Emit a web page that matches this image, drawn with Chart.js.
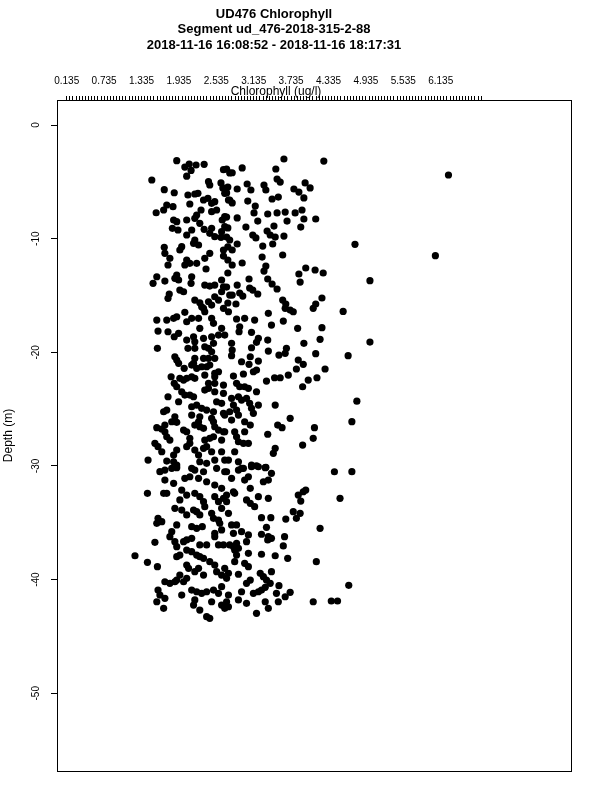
<!DOCTYPE html>
<html><head><meta charset="utf-8">
<script src="https://cdn.jsdelivr.net/npm/chart.js@4/dist/chart.umd.min.js"></script>
<style>html,body{margin:0;padding:0;background:#fff}canvas{display:block}</style>
</head><body>
<canvas id="c" width="600" height="800"></canvas>
<script>
const titleLines = ['UD476 Chlorophyll', 'Segment ud_476-2018-315-2-88', '2018-11-16 16:08:52 - 2018-11-16 18:17:31'];
const xAxisTitle = 'Chlorophyll (ug/l)';
const yAxisTitle = 'Depth (m)';
const xTickLabels = ['0.135','0.735','1.335','1.935','2.535','3.135','3.735','4.335','4.935','5.535','6.135'];
const xMinorFirst = 0.135;
const xMinorCount = 134;
const xMinorStep = 0.05;
const yTickValues = [0, -10, -20, -30, -40, -50];
const yTickLabels = ['0', '-10', '-20', '-30', '-40', '-50'];

const chlorophyll = [
6.26,6.05,4.76,5.00,5.00,4.65,4.79,4.71,4.57,4.66,4.71,
1.90,2.10,2.21,2.34,2.03,2.06,2.13,1.50,2.65,2.70,2.41,2.43,2.61,2.64,1.70,1.86,2.08,2.19,2.24,2.33,2.40,2.46,2.51,2.67,2.73,2.11,1.74,1.69,1.57,1.84,2.29,2.22,2.06,1.85,1.90,2.46,2.54,2.63,2.67,2.19,2.27,2.34,1.83,1.92,2.14,2.06,2.46,2.43,2.67,2.62,2.61,2.51,2.19,2.17,2.25,1.70,1.71,1.98,1.95,2.43,2.35,2.65,2.65,1.79,1.76,2.06,2.03,2.11,2.22,2.37,1.90,1.87,1.93,1.58,1.71,1.52,2.14,2.13,2.35,2.43,2.51,2.62,2.65,1.95,2.01,1.78,1.76,2.19,2.27,2.30,2.51,2.57,2.62,2.41,2.46,
3.62,4.26,3.49,3.51,3.56,2.95,2.79,3.30,3.33,3.03,3.09,2.87,3.78,3.86,3.96,4.04,3.94,3.43,3.53,3.04,3.16,3.14,3.36,3.51,3.64,3.80,3.91,3.94,4.13,3.67,3.20,2.87,3.01,3.35,3.40,3.46,3.89,3.12,3.17,3.48,3.44,3.62,3.28,2.87,3.27,3.60,2.95,3.33,3.30,3.97,4.12,4.25,3.86,3.88,3.36,3.43,3.51,3.06,2.87,2.91,2.96,3.07,3.12,3.20,2.75,2.85,3.60,3.65,4.23,4.13,
2.75,2.72,2.70,2.75,2.79,2.70,2.72,2.70,2.75,2.72,2.79,2.72,2.79,2.72,2.70,2.79,2.72,
1.58,1.74,1.85,1.90,2.03,2.06,2.14,2.25,2.33,2.35,2.46,2.49,2.65,1.60,1.76,1.86,1.93,2.06,2.17,2.19,2.27,2.33,2.35,2.46,2.49,2.57,2.62,1.59,2.08,2.19,2.41,2.46,1.87,1.90,1.93,2.19,2.17,2.33,2.41,2.51,2.02,2.14,2.22,2.30,2.38,2.43,2.51,2.57,1.81,1.95,2.01,2.06,2.14,2.19,2.35,2.41,2.51,2.51,2.65,1.86,1.90,1.98,2.03,2.11,2.17,1.76,1.93,2.35,2.41,2.51,2.65,2.54,2.62,1.69,1.74,2.14,2.22,2.30,2.38,2.49,2.14,1.87,1.82,2.27,2.25,2.46,2.49,2.65,2.67,1.71,1.66,1.58,1.90,2.01,2.06,2.19,2.27,2.33,2.51,2.57,2.65,1.71,1.74,1.79,2.11,2.11,2.35,2.43,2.49,2.62,1.55,1.60,1.66,1.90,1.85,2.06,2.19,2.25,2.33,2.38,2.46,2.62,1.44,1.74,1.85,1.90,2.27,2.38,2.51,2.67,
2.73,3.64,3.72,3.77,4.09,3.37,2.86,2.99,3.15,3.42,3.61,2.91,2.90,3.84,4.23,3.10,2.67,3.21,3.18,3.10,3.36,3.94,4.20,2.78,2.79,2.78,3.37,3.66,3.64,3.54,4.13,3.08,3.06,2.94,3.21,3.85,3.93,3.82,4.28,3.13,3.18,2.97,2.81,3.34,3.47,3.56,3.69,4.01,4.15,3.92,2.86,2.91,2.99,3.05,3.18,2.89,2.94,3.02,3.07,3.10,3.13,2.78,2.81,2.75,2.86,2.89,3.21,3.48,3.72,2.78,2.99,3.08,3.52,3.59,4.11,2.67,2.83,2.86,2.89,2.97,3.05,2.99,3.36,4.09,3.92,3.48,3.45,2.83,2.73,2.89,3.10,3.21,3.33,2.94,
1.63,1.71,1.82,1.90,2.14,2.19,2.33,2.54,2.70,1.71,1.85,2.03,2.11,2.25,2.38,2.51,2.62,1.43,1.69,1.74,1.98,2.06,2.19,2.27,2.33,2.35,2.51,2.57,2.65,2.70,1.95,1.87,1.98,2.06,2.17,2.22,2.27,2.46,2.49,2.57,2.62,1.60,1.58,1.66,1.90,2.14,2.22,2.31,2.59,2.62,2.51,1.82,1.79,1.87,1.90,2.01,2.06,2.14,2.27,2.38,2.51,2.57,2.65,1.55,1.23,1.43,1.59,1.90,1.95,2.06,2.14,2.22,2.27,2.33,2.43,2.51,2.06,2.09,2.19,2.25,2.33,2.54,2.62,1.95,1.90,1.71,1.79,1.87,2.01,2.06,1.60,1.63,1.58,1.71,1.69,1.98,2.14,2.22,2.30,2.38,2.49,2.57,2.62,2.46,2.62,2.67,2.27,2.38,2.43,2.19,2.17,
2.89,2.97,3.10,3.18,3.32,3.42,2.67,2.78,2.99,3.05,3.37,3.29,4.43,3.08,2.81,2.83,3.85,3.93,3.97,3.89,4.52,3.02,3.08,3.15,3.21,3.37,2.70,2.73,3.77,3.88,3.82,3.26,3.41,3.65,4.20,2.78,2.86,3.34,2.94,3.05,2.81,3.26,3.37,3.42,3.36,3.63,3.02,2.75,2.81,2.86,2.89,2.83,3.61,2.86,2.83,3.05,3.26,3.48,3.68,4.14,2.99,3.05,2.67,2.73,2.70,2.89,3.24,3.29,3.34,3.40,3.42,3.08,3.02,3.54,2.94,3.13,3.21,3.26,3.32,3.50,3.72,3.64,2.73,2.70,2.73,2.89,3.02,3.32,3.37,3.53,3.18,4.09,4.38,4.48
];

const depth = [
-4.40,-11.50,-10.50,-13.70,-19.10,-20.30,-24.30,-26.10,-16.40,-40.50,-30.50,
-3.14,-3.43,-3.52,-3.46,-3.70,-4.50,-4.00,-4.84,-3.93,-3.87,-4.99,-5.28,-5.10,-5.54,-5.69,-5.96,-6.16,-6.07,-6.01,-6.60,-6.45,-6.89,-6.75,-6.01,-6.60,-6.95,-7.04,-7.48,-7.72,-7.19,-7.48,-7.92,-8.36,-8.36,-8.51,-7.63,-7.48,-8.36,-8.07,-8.21,-8.65,-9.18,-9.09,-9.24,-9.24,-9.68,-9.09,-9.53,-8.95,-9.39,-9.88,-9.83,-10.12,-10.41,-10.56,-10.76,-11.29,-10.71,-11.00,-11.29,-11.73,-11.00,-11.53,-11.73,-12.32,-11.88,-12.32,-12.17,-12.17,-12.67,-13.20,-13.49,-13.64,-13.35,-13.73,-13.93,-13.35,-13.93,-14.08,-14.17,-14.08,-13.64,-14.23,-14.52,-14.67,-14.87,-15.25,-15.40,-15.64,-15.99,-15.11,-15.40,-14.67,-15.55,-15.84,
-2.99,-3.17,-3.87,-4.75,-5.02,-3.78,-4.20,-5.28,-5.72,-5.19,-5.72,-5.63,-5.63,-5.90,-5.10,-5.54,-6.42,-6.51,-6.34,-6.69,-7.13,-7.74,-7.83,-7.74,-7.66,-7.74,-7.48,-8.27,-8.27,-8.45,-8.45,-8.18,-8.98,-9.33,-9.68,-8.89,-8.98,-9.68,-9.94,-9.86,-10.47,-9.77,-10.65,-10.47,-11.62,-11.44,-12.14,-12.41,-12.85,-12.58,-12.76,-13.02,-13.11,-13.82,-13.55,-13.99,-14.43,-13.55,-14.08,-14.78,-15.05,-14.34,-14.52,-14.87,-14.96,-15.75,-15.40,-15.75,-15.22,-15.75,
-4.22,-5.46,-5.98,-6.60,-6.86,-8.10,-9.06,-9.86,-10.12,-10.73,-11.00,-11.88,-12.32,-13.02,-14.26,-14.96,-15.66,
-17.16,-17.16,-17.01,-16.87,-16.48,-17.31,-17.01,-17.01,-16.13,-16.43,-17.01,-17.45,-16.13,-18.13,-18.19,-18.63,-18.33,-18.92,-18.63,-19.07,-17.89,-18.77,-19.51,-18.63,-19.21,-18.48,-17.89,-19.65,-19.65,-19.65,-19.65,-19.95,-20.39,-20.68,-20.97,-20.53,-20.97,-20.53,-20.53,-20.53,-21.41,-21.12,-21.41,-21.27,-21.27,-21.12,-21.85,-21.71,-22.15,-22.29,-22.44,-22.29,-22.15,-22.29,-22.00,-22.73,-22.15,-22.73,-22.88,-22.73,-23.03,-23.47,-23.76,-23.76,-23.91,-23.91,-24.35,-23.32,-23.17,-23.47,-23.61,-24.35,-24.49,-25.23,-25.08,-24.79,-24.64,-24.93,-25.08,-25.23,-25.52,-25.67,-26.11,-25.67,-26.11,-25.81,-26.11,-25.37,-25.52,-26.40,-26.75,-26.63,-26.16,-26.84,-26.99,-26.40,-26.55,-26.69,-26.55,-26.84,-26.99,-26.99,-27.43,-27.72,-27.57,-28.01,-27.72,-27.57,-27.43,-27.72,-28.01,-28.30,-28.75,-28.60,-29.04,-28.30,-28.60,-29.04,-28.45,-28.30,-28.75,-28.75,-29.48,-29.57,-29.63,-29.92,-29.63,-29.77,-29.48,-29.48,
-16.43,-16.13,-16.28,-16.43,-16.13,-16.57,-17.07,-17.01,-17.16,-17.60,-17.25,-17.75,-18.19,-17.89,-17.83,-18.24,-18.48,-18.77,-19.12,-19.60,-18.92,-19.21,-18.86,-19.21,-19.80,-20.30,-19.89,-19.65,-20.09,-20.24,-20.12,-20.39,-21.06,-20.83,-20.77,-20.68,-21.06,-21.47,-21.47,-21.71,-21.56,-21.91,-22.09,-22.53,-22.24,-22.24,-22.00,-22.44,-22.24,-23.03,-22.73,-23.03,-23.03,-23.17,-23.47,-23.91,-24.20,-24.05,-24.49,-24.93,-25.37,-24.05,-24.64,-25.23,-25.08,-25.52,-24.64,-24.64,-25.81,-25.96,-26.11,-26.40,-26.40,-26.63,-26.63,-26.99,-26.99,-27.43,-27.87,-28.01,-28.01,-26.99,-27.21,-27.57,-28.16,-28.45,-28.89,-28.75,-29.48,-29.63,-29.92,-30.07,-30.12,-30.21,
-30.50,-30.36,-30.21,-30.15,-30.21,-30.36,-30.51,-30.21,-30.51,-31.24,-31.53,-31.09,-30.95,-31.09,-31.39,-31.68,-31.97,-32.41,-32.41,-32.41,-32.12,-32.56,-32.41,-32.70,-33.14,-33.58,-32.70,-33.14,-32.85,-32.56,-32.99,-33.73,-33.88,-34.31,-33.88,-34.02,-34.31,-34.17,-34.61,-34.76,-33.73,-34.61,-35.05,-34.90,-35.19,-35.34,-35.49,-35.34,-35.05,-35.63,-35.93,-35.78,-36.22,-36.66,-37.10,-36.66,-36.51,-36.37,-36.95,-36.95,-36.22,-36.95,-36.95,-36.72,-37.90,-38.48,-38.86,-37.98,-37.84,-37.40,-37.54,-37.84,-37.98,-38.13,-38.42,-38.72,-38.72,-39.01,-39.30,-39.01,-39.60,-39.30,-39.60,-39.60,-40.04,-40.19,-40.33,-40.19,-40.19,-39.89,-40.92,-41.36,-41.95,-41.65,-42.53,-41.36,-40.92,-41.07,-41.21,-41.07,-40.92,-41.21,-40.62,-41.95,-42.24,-42.53,-42.68,-43.26,-43.41,-41.79,-42.24,
-30.36,-30.21,-30.07,-29.98,-30.15,-30.65,-30.51,-31.09,-31.24,-30.95,-31.24,-31.39,-30.51,-31.97,-32.27,-32.41,-32.56,-32.27,-32.12,-33.09,-32.85,-32.99,-33.29,-33.58,-32.70,-32.85,-33.14,-34.17,-34.02,-34.17,-34.61,-34.55,-34.55,-34.67,-35.49,-35.19,-35.19,-35.40,-35.78,-36.07,-35.93,-36.01,-36.22,-36.37,-36.51,-36.22,-36.66,-36.95,-37.10,-36.80,-37.25,-37.40,-37.04,-37.84,-38.42,-37.69,-37.77,-37.90,-38.13,-38.42,-38.57,-38.86,-39.01,-39.45,-39.89,-39.53,-39.45,-39.74,-40.04,-40.33,-39.30,-40.04,-40.33,-40.53,-41.07,-41.21,-41.07,-40.92,-40.68,-41.21,-41.12,-41.51,-41.36,-41.95,-42.39,-41.79,-42.09,-41.95,-42.53,-41.95,-42.97,-41.95,-41.88,-41.88
];

const FONT = '"Liberation Sans", Arial, Helvetica, sans-serif';
Chart.defaults.color = '#000';
Chart.defaults.font.family = FONT;

const xTickValues = [];
for (let i = 0; i < xMinorCount; i++) xTickValues.push(+(xMinorFirst + i * xMinorStep).toFixed(3));

const points = chlorophyll.map((c, i) => ({x: c, y: depth[i]}));

const decor = {
  id: 'decor',
  afterDraw(chart) {
    const ctx = chart.ctx;
    const a = chart.chartArea;
    ctx.save();
    ctx.strokeStyle = '#000';
    ctx.lineWidth = 1;
    ctx.strokeRect(Math.round(a.left) - 0.5, Math.round(a.top) + 0.5, Math.round(a.right - a.left) + 1, Math.round(a.bottom - a.top));
    ctx.fillStyle = '#000';
    ctx.textAlign = 'center';
    ctx.textBaseline = 'alphabetic';
    ctx.font = 'bold 13px ' + FONT;
    const base = [17.5, 33, 48.5];
    titleLines.forEach((t, i) => ctx.fillText(t, 274, base[i]));
    ctx.font = '12px ' + FONT;
    ctx.fillText(xAxisTitle, 276, 95);
    ctx.restore();
  }
};

new Chart(document.getElementById('c'), {
  type: 'scatter',
  data: {
    datasets: [{
      data: points,
      pointRadius: 3.6,
      pointHoverRadius: 3.6,
      backgroundColor: '#000',
      borderColor: '#000',
      borderWidth: 0
    }]
  },
  options: {
    responsive: false,
    animation: false,
    devicePixelRatio: 1,
    layout: {padding: {top: 0, left: 0, right: 29, bottom: 29}},
    plugins: {legend: {display: false}, tooltip: {enabled: false}, title: {display: false}},
    scales: {
      x: {
        type: 'linear', position: 'top', min: -0.005, max: 8.226,
        afterBuildTicks: s => { s.ticks = xTickValues.map(v => ({value: v})); },
        afterFit: s => { s.height = 100; },
        ticks: {
          autoSkip: false, minRotation: 0, maxRotation: 0, padding: 9,
          font: {size: 10, family: FONT}, color: '#000',
          callback: (v, i) => (i % 12 === 0 && xTickLabels[i / 12] !== undefined) ? xTickLabels[i / 12] : ''
        },
        grid: {drawOnChartArea: false, drawTicks: true, tickLength: 4, color: '#000', lineWidth: 1},
        border: {display: false}
      },
      y: {
        type: 'linear', position: 'left', min: -56.84, max: 2.2,
        afterBuildTicks: s => { s.ticks = yTickValues.map(v => ({value: v})); },
        afterFit: s => { s.width = 58; },
        ticks: {
          autoSkip: false, minRotation: 90, maxRotation: 90, crossAlign: 'center', padding: 8,
          font: {size: 10, family: FONT}, color: '#000',
          callback: (v, i) => yTickLabels[i]
        },
        grid: {drawOnChartArea: false, drawTicks: true, tickLength: 7, color: '#000', lineWidth: 1},
        border: {display: false},
        title: {display: true, text: yAxisTitle, color: '#000', font: {size: 12, family: FONT}, padding: {top: 1, bottom: 0}}
      }
    }
  },
  plugins: [decor]
});
</script>
</body></html>
